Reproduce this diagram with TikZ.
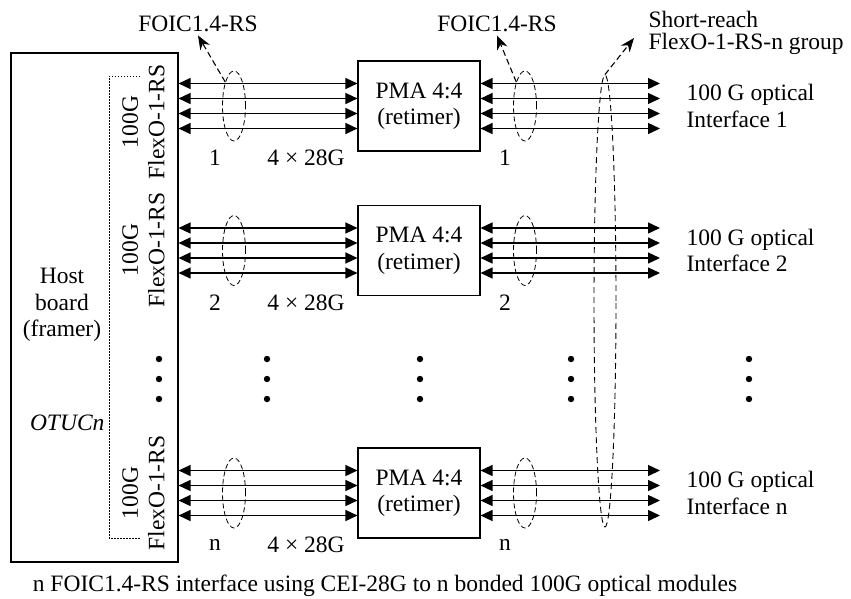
\documentclass[tikz,border=0pt]{standalone}
\usepackage{fontspec}
\setmainfont{Liberation Serif}
\usetikzlibrary{arrows.meta,shapes.geometric}
\begin{document}
\begin{tikzpicture}[x=1pt,y=-1pt,
  font=\fontsize{23.5}{26.5}\selectfont,
  box/.style={draw,line width=1.1pt,minimum width=122pt,minimum height=90pt,align=center},
  bus/.style={line width=1.4pt,{Triangle[length=12pt,width=11pt]}-{Triangle[length=12pt,width=11pt]}},
  bundle/.style={draw,ellipse,dash pattern=on 5pt off 3pt,line width=0.8pt,minimum width=23pt,minimum height=70pt,inner sep=0pt},
  pointer/.style={dash pattern=on 6pt off 3.5pt,line width=1.1pt,-{Stealth[length=14pt,width=11pt]}},
  vlabel/.style={rotate=90,align=center}]
\useasboundingbox (0,0) rectangle (851,598);
% host board
\node[draw,line width=1.1pt,minimum width=167pt,minimum height=509pt] (host) at (94.5,307.5) {};
\node[align=center] (hostlbl) at (62,305) {Host\\board\\(framer)};
\node[anchor=east,font=\fontsize{23.5}{26.5}\selectfont\itshape] (otu) at (108,423) {OTUCn};
\draw[line width=1pt,dash pattern=on 1.5pt off 1.5pt] (140,76) -- (109,76) -- (109,538) -- (140,538);
% rows
\foreach \r/\yc/\fy in {1/106/122, 2/250.5/250, n/493/493} {
  \node[box] (pma\r) at (419,\yc) {PMA 4:4\\(retimer)};
  \node[vlabel] (flex\r) at (143.5,\fy) {100G\\FlexO-1-RS};
  \coordinate (out\r) at (660,\yc);
  \foreach \dy in {-22.5,-7.5,7.5,22.5} {
    \draw[bus] (host.east |- 0,\yc+\dy) -- (pma\r.west |- 0,\yc+\dy);
    \draw[bus] (pma\r.east |- 0,\yc+\dy) -- (out\r |- 0,\yc+\dy);
  }
  \node[bundle] (el\r) at (234,\yc) {};
  \node[bundle] (er\r) at (525,\yc) {};
  \node (nl\r) at (215,\yc+52) {\r};
  \node (rate\r) at (306,\yc+52) {4 × 28G};
  \node (nr\r) at (505,\yc+52) {\r};
  \node[anchor=west,align=left] (opt\r) at (683,\yc) {100 G optical\\Interface \r};
}
% dots
\foreach \x in {159,267,420,571,749}
  \foreach \y in {359,379,399}
    \fill (\x,\y) circle (3.2pt);
% group ellipse
\node[draw,ellipse,dash pattern=on 6pt off 4pt,line width=0.9pt,minimum width=22pt,minimum height=452pt,inner sep=0pt] (grp) at (605,301) {};
% labels on top
\node (foicl) at (198,24) {FOIC1.4-RS};
\node (foicr) at (497,24) {FOIC1.4-RS};
\node[anchor=west,align=left,font=\fontsize{23.5}{21.5}\selectfont] (srl) at (645,33) {Short-reach\\FlexO-1-RS-n group};
\coordinate (srtip) at (634,38);
\draw[pointer] (el1.110) -- (foicl.south);
\draw[pointer] (er1.110) -- (foicr.south);
\draw[pointer] (grp.north) -- (srtip);
% caption
\node (cap) at (385,586) {n FOIC1.4-RS interface using CEI-28G to n bonded 100G optical modules};
\end{tikzpicture}
\end{document}
